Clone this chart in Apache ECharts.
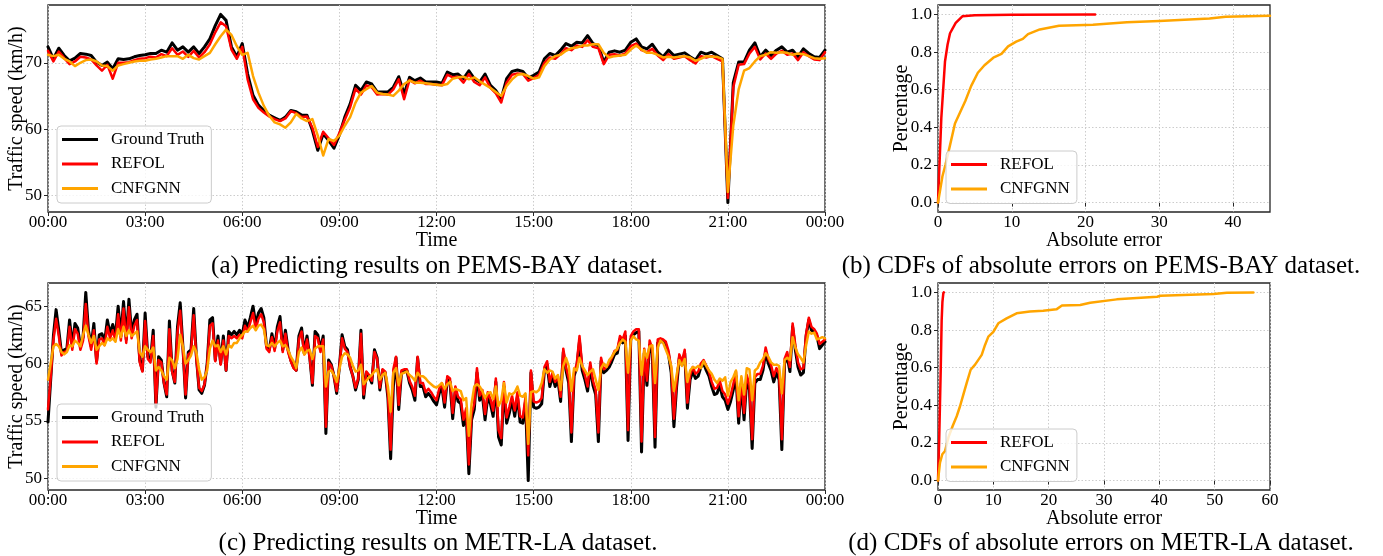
<!DOCTYPE html>
<html>
<head>
<meta charset="utf-8">
<script src="https://cdn.jsdelivr.net/npm/echarts@6/dist/echarts.min.js"></script>
<style>
  html, body { margin: 0; padding: 0; background: #fff; }
  #chart { width: 1383px; height: 556px; }
</style>
</head>
<body>
<div id="chart"></div>
<script>
// ---- data -------------------------------------------------------------
// PEMS-BAY speeds, one sample every 10 minutes from 00:00 to 24:00 (km/h)
const BAY_STEP = 10;
const bayTruth = [
  72.4,70.6,72.2,71.1,70.3,70.7,71.4,71.3,71.1,70.1,
  69.6,70.1,69.1,70.6,70.5,70.6,70.9,71.1,71.2,71.4,
  71.4,71.9,71.6,73.0,71.9,72.4,71.6,72.4,71.4,72.4,
  73.6,75.6,77.3,76.4,72.4,70.9,72.9,68.3,65.1,63.6,
  62.8,62.1,61.7,61.3,61.8,62.8,62.6,62.1,62.1,59.8,
  56.8,59.3,58.3,57.1,59.1,61.8,63.8,66.6,65.8,67.1,
  66.8,65.6,65.6,65.6,66.3,67.9,65.3,67.8,67.3,67.7,
  67.1,67.1,67.1,66.9,68.6,68.2,68.3,67.6,68.8,67.6,
  67.1,68.3,66.6,65.8,64.6,67.6,68.7,68.9,68.7,67.7,
  68.1,68.6,70.6,71.4,71.1,71.9,72.9,72.5,73.1,73.0,
  74.1,72.9,72.6,70.1,71.6,71.8,71.6,71.9,73.1,73.6,
  72.4,72.1,72.8,71.6,70.9,71.9,71.1,71.3,71.5,70.9,
  70.4,71.6,71.3,71.6,71.1,70.6,48.9,67.0,70.1,70.1,
  71.9,73.0,70.9,71.9,71.1,71.9,72.4,71.6,71.9,70.9,
  72.1,71.4,70.9,70.8,71.9
];
const bayRefol = [
  71.8,70.2,71.7,70.7,69.8,70.2,70.9,70.8,70.5,69.6,
  68.8,69.7,67.6,70.0,70.0,70.1,70.4,70.6,70.7,70.9,
  70.8,71.3,71.0,72.2,71.2,71.7,70.9,71.8,70.8,71.6,
  72.8,74.6,76.1,75.5,72.0,70.6,72.4,67.5,64.5,63.2,
  62.5,61.9,61.5,61.2,61.6,62.7,62.4,61.8,61.9,60.2,
  57.3,59.6,58.6,57.6,59.4,61.4,63.3,66.1,65.2,66.6,
  66.3,65.2,65.3,65.2,66.0,67.5,64.5,67.4,66.9,67.3,
  66.8,66.8,66.7,66.6,68.2,67.8,67.9,67.0,68.3,67.1,
  66.6,67.8,66.2,65.4,64.0,67.0,68.2,68.4,68.3,67.3,
  67.7,68.2,70.0,70.8,70.6,71.3,72.2,71.9,72.6,72.4,
  73.4,72.4,72.2,69.8,71.2,71.3,71.1,71.4,72.5,72.9,
  71.9,71.6,72.1,71.1,70.4,71.3,70.6,70.8,71.0,70.4,
  69.9,71.0,70.8,71.0,70.6,70.2,49.6,66.3,69.7,69.8,
  71.4,72.4,70.5,71.4,70.6,71.4,71.8,71.2,71.4,70.4,
  71.6,71.0,70.5,70.4,71.6
];
const bayCnfgnn = [
  71.2,71.0,71.2,70.6,70.2,69.5,70.0,70.4,70.5,70.2,
  69.6,69.5,68.8,69.6,69.8,70.0,70.2,70.3,70.3,70.5,
  70.6,70.8,71.0,71.0,71.0,70.6,71.2,70.7,70.5,71.0,
  71.5,72.8,74.0,75.0,74.2,72.5,71.2,71.5,68.0,65.5,
  63.5,62.0,61.0,60.7,60.2,61.0,62.3,61.6,61.2,61.5,
  59.0,56.0,58.5,58.2,59.0,60.5,61.8,64.0,65.5,66.0,
  66.5,65.5,65.3,65.2,65.0,65.8,66.8,67.3,67.0,67.0,
  66.9,66.8,66.7,66.6,66.8,67.6,67.8,67.9,67.5,67.8,
  67.2,66.7,66.2,65.6,65.0,66.5,67.5,68.2,68.3,68.0,
  67.6,67.8,69.5,70.5,71.0,71.2,71.8,72.2,72.3,72.6,
  72.6,72.8,72.8,71.5,70.8,71.0,71.1,71.2,72.0,72.6,
  72.0,71.5,71.5,71.2,70.8,70.9,70.8,70.9,71.0,70.8,
  70.3,70.6,71.0,70.9,70.9,70.6,50.5,60.5,66.0,68.8,
  69.2,70.2,71.0,71.2,71.6,71.5,71.6,71.5,71.2,71.4,
  71.3,71.0,70.7,70.6,70.7
];

// METR-LA speeds, one sample every 5 minutes from 00:00 to 24:00 (km/h), one row per hour
const LA_STEP = 5;
const laTruth = [
  54.9,58.6,62.4,64.7,62.9,60.9,61.2,61.3,63.8,61.5,63.5,63.1,
  61.5,62.3,66.2,62.9,61.5,63.5,60.2,62.5,62.6,61.9,63.8,62.6,
  63.4,62.4,65.0,62.4,65.4,62.1,65.6,62.6,63.8,64.3,60.3,59.4,
  64.4,60.6,60.3,62.9,56.2,60.6,60.3,58.3,57.1,63.7,59.4,58.3,
  63.2,65.3,61.5,57.0,61.0,61.2,64.8,60.6,57.7,57.4,58.1,60.0,
  63.8,64.0,60.3,62.4,60.0,62.4,59.4,62.8,62.5,62.8,62.5,62.9,
  62.5,63.8,63.1,64.0,65.0,63.4,64.4,64.8,64.0,61.5,61.2,62.6,
  61.3,63.2,64.1,61.2,62.9,61.2,60.3,59.7,59.4,62.4,63.1,60.9,
  62.4,60.6,58.1,62.8,62.5,61.2,62.4,53.9,60.3,59.9,58.9,57.4,
  59.7,62.5,61.5,61.2,59.7,58.9,57.7,58.6,62.9,57.0,59.2,58.9,
  58.3,61.2,60.5,57.7,59.4,59.2,57.0,51.7,58.0,60.5,56.0,59.2,
  59.4,59.4,58.3,57.7,56.8,60.5,58.0,58.0,57.1,57.4,57.1,56.7,
  56.4,57.4,58.0,56.2,58.6,58.4,55.2,57.7,56.7,56.5,54.6,55.7,
  50.4,55.1,56.0,59.2,56.8,57.3,55.1,57.1,56.5,55.4,58.4,53.6,
  52.9,58.0,54.8,55.7,56.8,55.4,57.1,54.9,54.8,56.7,49.8,59.2,
  56.2,56.1,56.2,56.5,59.4,59.9,58.0,58.9,58.0,58.6,56.7,61.0,
  59.4,58.3,53.2,58.9,59.7,61.9,59.4,58.6,57.6,59.7,58.1,57.3,
  53.2,60.2,59.2,59.4,59.7,60.2,60.8,60.9,62.1,61.8,62.4,53.3,
  62.1,62.5,62.7,62.8,52.3,60.9,58.1,61.6,60.9,52.7,61.8,61.9,
  61.9,61.6,60.8,59.2,54.5,58.0,60.5,59.9,60.9,56.1,58.6,59.3,
  58.7,58.9,59.7,60.0,59.4,58.9,58.0,57.3,57.4,58.1,57.1,56.8,
  56.0,56.7,57.7,58.9,54.8,58.3,55.1,58.6,57.7,52.6,58.3,58.6,
  58.6,59.4,61.0,60.0,59.4,58.4,59.2,58.6,52.5,60.0,60.6,59.3,
  63.2,61.2,59.7,59.0,59.2,62.4,63.8,62.9,62.8,62.4,61.3,61.6,
  61.9
];
const laRefol = [
  56.0,58.8,62.0,63.9,62.4,60.7,61.0,61.1,63.2,61.2,63.0,62.6,
  61.2,62.0,65.2,62.4,61.2,62.9,60.0,62.1,62.2,61.6,63.2,62.2,
  62.9,62.0,64.3,62.0,64.8,61.8,64.9,62.2,63.3,63.8,60.1,59.3,
  63.7,60.4,60.1,62.4,56.5,60.3,60.1,58.3,57.3,63.0,59.3,58.4,
  62.7,64.6,61.2,57.3,60.8,61.0,64.2,60.4,57.9,57.6,58.2,59.9,
  63.3,63.5,60.2,62.0,59.9,62.0,59.4,62.4,62.2,62.4,62.2,62.5,
  62.2,63.3,62.8,63.6,64.4,63.0,63.9,64.3,63.6,61.3,61.0,62.3,
  61.1,62.8,63.6,61.0,62.6,61.0,60.2,59.6,59.4,62.1,62.8,60.8,
  62.1,60.5,58.3,62.4,62.2,61.0,62.1,54.5,60.1,59.8,58.9,57.6,
  59.7,62.2,61.3,61.0,59.7,58.9,57.9,58.7,62.6,57.3,59.3,59.0,
  58.5,61.0,60.4,57.9,59.5,59.3,57.3,52.5,59.5,60.6,56.4,59.4,
  59.5,59.5,58.5,58.0,57.2,60.6,58.3,58.3,57.5,57.8,57.5,57.1,
  56.8,57.8,58.3,56.6,58.9,58.7,55.7,58.0,57.1,56.9,55.1,56.1,
  51.2,55.6,56.5,59.6,57.2,57.7,55.6,57.5,56.9,55.9,58.7,54.2,
  53.5,58.4,55.3,56.2,57.2,55.9,57.5,55.4,55.3,57.1,52.0,59.4,
  56.7,56.6,56.7,57.0,59.7,60.2,58.4,59.2,58.4,58.9,57.1,61.3,
  59.7,58.7,54.0,59.2,60.0,62.4,59.8,59.0,58.0,60.1,58.5,57.7,
  54.0,60.5,59.5,59.7,60.0,60.5,61.1,61.2,62.4,62.1,62.8,54.2,
  62.4,62.8,63.0,63.0,53.2,61.3,58.5,62.0,61.3,53.6,62.1,62.2,
  62.1,61.9,61.1,59.6,55.2,58.4,60.8,60.2,61.2,56.6,59.0,59.7,
  59.1,59.3,60.0,60.3,59.8,59.3,58.4,57.8,57.9,58.5,57.6,57.3,
  56.5,57.2,58.2,59.3,55.4,58.7,55.7,59.0,58.1,53.4,58.8,59.1,
  59.1,59.8,61.4,60.4,59.9,58.9,59.6,59.1,53.4,60.4,61.0,59.7,
  63.5,61.6,60.1,59.5,59.6,62.6,64.0,63.2,63.0,62.6,61.7,61.9,
  62.1
];
const laCnfgnn = [
  58.6,60.0,61.5,61.7,61.5,61.0,60.8,61.0,61.6,61.5,62.0,61.8,
  61.5,62.5,63.3,62.5,61.8,62.4,61.2,61.5,61.8,61.6,62.2,62.0,
  62.2,61.9,63.0,62.3,63.2,62.4,62.9,62.4,62.6,62.8,61.0,60.6,
  61.5,61.2,61.0,61.4,59.4,59.7,59.4,58.9,58.6,60.5,60.3,59.6,
  60.4,62.5,61.5,60.0,60.3,60.7,61.5,61.0,59.5,58.6,58.8,59.4,
  61.3,62.0,61.5,61.6,61.0,61.5,60.8,61.6,61.4,61.8,61.8,62.2,
  62.5,62.8,62.8,63.1,63.3,62.9,63.3,63.4,63.0,61.6,61.5,61.8,
  61.5,61.8,62.0,61.5,61.6,61.2,60.6,60.2,59.6,61.0,61.4,60.8,
  61.1,61.2,60.4,61.3,61.5,61.5,61.5,58.0,59.3,59.4,59.0,58.4,
  59.5,60.6,60.9,60.8,60.5,59.8,59.3,59.4,59.9,58.2,58.5,58.8,
  59.0,59.3,59.5,58.6,59.0,59.2,58.0,55.8,59.2,59.6,58.1,59.1,
  59.2,59.3,59.0,58.8,58.5,59.2,58.9,58.9,58.7,58.4,58.2,58.0,
  57.9,58.1,58.3,57.8,58.2,58.4,57.6,57.8,57.7,57.6,56.8,57.0,
  53.7,56.5,58.0,58.2,58.0,57.6,57.0,57.4,57.5,56.9,58.0,56.3,
  56.8,58.3,56.6,57.4,57.3,57.5,58.0,57.2,57.1,57.4,53.0,57.5,
  57.6,57.5,57.7,58.3,59.5,59.2,59.4,59.3,58.7,59.0,57.7,59.8,
  60.5,59.8,57.6,59.6,59.4,60.5,59.8,59.4,59.0,59.3,59.5,58.6,
  57.7,59.6,60.0,59.7,60.3,60.6,61.0,61.3,61.8,62.1,61.9,59.2,
  62.0,62.4,62.1,62.0,59.0,61.2,60.5,61.5,61.6,58.3,61.4,62.0,
  61.8,61.2,60.6,59.8,57.6,59.0,60.3,59.8,60.4,58.4,59.4,59.7,
  59.6,59.8,59.6,60.2,59.8,59.4,59.1,58.6,58.3,58.7,58.5,58.8,
  57.2,58.4,58.8,59.4,56.8,58.9,57.3,59.6,59.5,56.8,59.4,59.6,
  60.1,60.4,60.9,60.6,60.1,59.9,59.9,59.8,57.4,60.3,60.5,60.3,
  62.3,61.4,60.8,60.5,60.1,61.6,62.8,62.6,62.7,62.1,62.2,62.3,
  62.2
];

// CDFs of absolute error: error value -> cumulative share
const bayRefolErr = [0, 0.2, 0.45, 0.7, 0.95, 1.3, 1.63, 2.4, 3.3, 5, 10, 21.3];
const bayRefolPct = [0, 0.2, 0.45, 0.6, 0.75, 0.84, 0.9, 0.955, 0.99, 0.996, 0.998, 1.0];
const bayCnfgnnErr = [0, 0.3, 0.6, 1.0, 1.6, 2.3, 3.0, 3.7, 4.5, 5.4, 6.3, 7.5, 8.6, 9.5, 10.6, 11.5, 12.2, 13.8, 16.4, 21, 25.6, 30, 36.8, 39, 45];
const bayCnfgnnPct = [0, 0.07, 0.14, 0.2, 0.3, 0.42, 0.48, 0.54, 0.62, 0.69, 0.73, 0.77, 0.79, 0.83, 0.855, 0.87, 0.895, 0.92, 0.94, 0.945, 0.958, 0.965, 0.978, 0.988, 0.993];
const laRefolErr = [0, 0.2, 0.36, 0.5, 0.66, 0.8, 0.96, 1.05];
const laRefolPct = [0, 0.2, 0.41, 0.6, 0.85, 0.95, 0.995, 1.0];
const laCnfgnnErr = [0, 0.36, 0.78, 1.27, 1.87, 2.65, 3.38, 3.98, 4.58, 5.19, 5.9, 6.7, 7.9, 8.5, 9.1, 10, 10.9, 12.4, 14.2, 16.6, 19, 21.4, 22.4, 25.7, 27.5, 32.3, 39.6, 40.2, 49.8, 52.2, 57];
const laCnfgnnPct = [0, 0.095, 0.14, 0.157, 0.228, 0.29, 0.342, 0.395, 0.457, 0.519, 0.589, 0.616, 0.668, 0.721, 0.765, 0.79, 0.836, 0.862, 0.889, 0.898, 0.903, 0.91, 0.93, 0.933, 0.945, 0.963, 0.977, 0.982, 0.991, 0.998, 1.0];

// axis tick values
const speedTicksBay = [50, 60, 70];
const speedTicksLa = [50, 55, 60, 65];
const pctTicks = [0, 0.2, 0.4, 0.6, 0.8, 1.0];
const errTicksBay = [0, 10, 20, 30, 40];

// captions
const captions = [
  '(a) Predicting results on PEMS-BAY dataset.',
  '(b) CDFs of absolute errors on PEMS-BAY dataset.',
  '(c) Predicting results on METR-LA dataset.',
  '(d) CDFs of absolute errors on METR-LA dataset.'
];

// ---- helpers ----------------------------------------------------------
const FONT = '"Liberation Serif", "DejaVu Serif", serif';
const BLACK = '#000000', RED = '#ff0000', ORANGE = '#ffa500';
const GRID_COLOR = '#cccccc';
const FRAME = '#262626';

const pad2 = n => String(n).padStart(2, '0');
const hhmm = v => { const m = Math.round(v) % 1440; return pad2(Math.floor(m / 60)) + ':' + pad2(m % 60); };
const series2pairs = (vals, step) => vals.map((v, i) => [i * step, v]);
const zip = (xs, ys) => xs.map((x, i) => [x, ys[i]]);
// matplotlib-style 5% margin around the data range
const padded = arrs => {
  const all = [].concat(...arrs);
  const lo = Math.min(...all), hi = Math.max(...all), m = (hi - lo) * 0.05;
  return [lo - m, hi + m];
};

const tickTxt = { fontFamily: FONT, fontSize: 17, color: '#000' };
const nameTxt = { fontFamily: FONT, fontSize: 20, color: '#000' };
const gridLine = { color: GRID_COLOR, type: [1.5, 2], width: 1 };

function timeAxis(gi) {
  return {
    type: 'value', gridIndex: gi, min: 0, max: 1440, interval: 180,
    axisLine: { show: false },
    axisTick: { show: true, length: 4, lineStyle: { color: FRAME, width: 1 } },
    axisLabel: Object.assign({ formatter: hhmm, margin: 2 }, tickTxt),
    splitLine: { show: true, lineStyle: gridLine },
    name: 'Time', nameLocation: 'middle', nameGap: 19, nameMoveOverlap: false, nameTextStyle: nameTxt
  };
}
function errAxis(gi, max, ticks) {
  const ax = {
    type: 'value', gridIndex: gi, min: 0, max: max, interval: 10,
    axisLine: { show: false },
    axisTick: { show: true, length: 4, lineStyle: { color: FRAME, width: 1 } },
    axisLabel: Object.assign({ margin: 2 }, tickTxt),
    splitLine: { show: true, lineStyle: gridLine },
    name: 'Absolute error', nameLocation: 'middle', nameGap: 19, nameMoveOverlap: false, nameTextStyle: nameTxt
  };
  if (ticks) {
    ax.axisLabel.customValues = ticks;
    ax.axisTick.customValues = ticks;
  }
  return ax;
}
function valueAxis(gi, ext, ticks, name, gap, fmt) {
  return {
    type: 'value', gridIndex: gi, min: ext[0], max: ext[1],
    axisLine: { show: false },
    axisTick: { show: true, length: 4, customValues: ticks, lineStyle: { color: FRAME, width: 1 } },
    axisLabel: Object.assign({ customValues: ticks, margin: 6, formatter: fmt }, tickTxt),
    splitLine: { show: false },
    name: name, nameLocation: 'middle', nameGap: gap, nameMoveOverlap: false, nameTextStyle: nameTxt
  };
}
// horizontal grid lines at the labelled ticks, kept beneath the data lines
function yGridLines(gi, ticks, x0) {
  return {
    type: 'line', name: 'y-grid-' + gi, xAxisIndex: gi, yAxisIndex: gi, z: 1,
    data: [[x0, ticks[0]]], showSymbol: false, silent: true,
    lineStyle: { opacity: 0 },
    markLine: {
      z: 1, silent: true, symbol: ['none', 'none'], label: { show: false },
      lineStyle: gridLine,
      emphasis: { disabled: true },
      data: ticks.map(v => ({ yAxis: v }))
    }
  };
}
function lineSeries(name, gi, data, color, width) {
  return {
    type: 'line', name: name, xAxisIndex: gi, yAxisIndex: gi, z: 2,
    data: data, showSymbol: false, color: color,
    itemStyle: { color: color },
    lineStyle: { color: color, width: width, join: 'round', cap: 'round' },
    emphasis: { disabled: true }
  };
}
function legendBox(left, top, names) {
  return {
    data: names, left: left, top: top, orient: 'vertical', z: 10,
    icon: 'rect', itemWidth: 36, itemHeight: 3, itemGap: 7.5,
    padding: [5, 7, 6, 5],
    backgroundColor: 'rgba(255,255,255,0.8)', borderColor: '#cccccc', borderWidth: 1, borderRadius: 4,
    textStyle: Object.assign({ padding: [0, 0, 0, 8] }, tickTxt),
    selectedMode: false
  };
}

// ---- layout -----------------------------------------------------------
// fixed plot boxes; outer-bounds shrinking is switched off so the boxes stay put
const frame = {
  show: true, borderColor: FRAME, borderWidth: 1.3, backgroundColor: 'transparent',
  containLabel: false, outerBoundsMode: 'none'
};
const grids = [
  Object.assign({ left: 48, top: 5, width: 777, height: 207 }, frame),
  Object.assign({ left: 938, top: 5, width: 332, height: 207 }, frame),
  Object.assign({ left: 48, top: 283, width: 777, height: 207 }, frame),
  Object.assign({ left: 938, top: 283, width: 332, height: 207 }, frame)
];

const bayExt = padded([bayTruth, bayRefol, bayCnfgnn]);
const laExt = padded([laTruth, laRefol, laCnfgnn]);
const pctExt = [-0.05, 1.05];
const pctFmt = v => v.toFixed(1);

const option = {
  animation: false,
  backgroundColor: '#ffffff',
  grid: grids,
  xAxis: [
    timeAxis(0),
    errAxis(1, 45, errTicksBay),
    timeAxis(2),
    errAxis(3, 60, null)
  ],
  yAxis: [
    valueAxis(0, bayExt, speedTicksBay, 'Traffic speed (km/h)', 21, v => String(v)),
    valueAxis(1, pctExt, pctTicks, 'Percentage', 26, pctFmt),
    valueAxis(2, laExt, speedTicksLa, 'Traffic speed (km/h)', 21, v => String(v)),
    valueAxis(3, pctExt, pctTicks, 'Percentage', 26, pctFmt)
  ],
  legend: [
    legendBox(57, 126, ['Ground Truth', 'REFOL', 'CNFGNN']),
    legendBox(946, 151, ['REFOL', 'CNFGNN']),
    legendBox(57, 404, ['Ground Truth', 'REFOL', 'CNFGNN']),
    legendBox(946, 429, ['REFOL', 'CNFGNN'])
  ],
  series: [
    yGridLines(0, speedTicksBay, 0),
    lineSeries('Ground Truth', 0, series2pairs(bayTruth, BAY_STEP), BLACK, 3),
    lineSeries('REFOL', 0, series2pairs(bayRefol, BAY_STEP), RED, 2.5),
    lineSeries('CNFGNN', 0, series2pairs(bayCnfgnn, BAY_STEP), ORANGE, 2.5),

    yGridLines(1, pctTicks, 0),
    lineSeries('REFOL', 1, zip(bayRefolErr, bayRefolPct), RED, 2.5),
    lineSeries('CNFGNN', 1, zip(bayCnfgnnErr, bayCnfgnnPct), ORANGE, 2.5),

    yGridLines(2, speedTicksLa, 0),
    lineSeries('Ground Truth', 2, series2pairs(laTruth, LA_STEP), BLACK, 3),
    lineSeries('REFOL', 2, series2pairs(laRefol, LA_STEP), RED, 2.5),
    lineSeries('CNFGNN', 2, series2pairs(laCnfgnn, LA_STEP), ORANGE, 2.5),

    yGridLines(3, pctTicks, 0),
    lineSeries('REFOL', 3, zip(laRefolErr, laRefolPct), RED, 2.5),
    lineSeries('CNFGNN', 3, zip(laCnfgnnErr, laCnfgnnPct), ORANGE, 2.5)
  ],
  graphic: [
    { x: 437, y: 266, text: captions[0] },
    { x: 1101, y: 266, text: captions[1] },
    { x: 438, y: 543, text: captions[2] },
    { x: 1101, y: 543, text: captions[3] }
  ].map(c => ({
    type: 'text', x: c.x, y: c.y, silent: true,
    style: { text: c.text, fontFamily: FONT, fontSize: 25, fill: '#000', align: 'center', verticalAlign: 'middle' }
  }))
};

const chart = echarts.init(document.getElementById('chart'), null, { renderer: 'canvas' });
chart.setOption(option);
</script>
</body>
</html>
